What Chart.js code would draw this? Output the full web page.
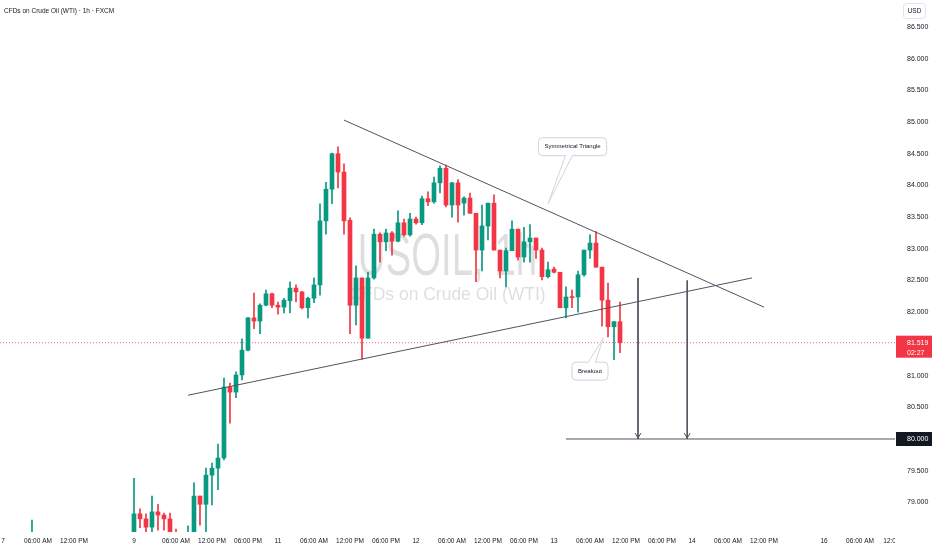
<!DOCTYPE html>
<html>
<head>
<meta charset="utf-8">
<title>USOIL 1h</title>
<script src="https://cdn.jsdelivr.net/npm/chart.js@4.4.1/dist/chart.umd.min.js"></script>
<style>
  html, body { margin: 0; padding: 0; background: #fff; }
  #wrap { position: relative; width: 932px; height: 550px; }
</style>
</head>
<body>
<div id="wrap"><canvas id="oilChart"></canvas></div>
<script>
'use strict';

// ── Data: hourly bars (0 = first bar of the 9th) ─────────────────────────────
const hours  = [-17, 0, 1, 2, 3, 4, 5, 6, 7, 8, 9, 10, 11, 12, 13, 14, 15, 16, 17, 18, 19,
  20, 21, 22, 23, 24, 25, 26, 27, 28, 29, 30, 31, 32, 33, 34, 35, 36, 37, 38, 39,
  40, 41, 42, 43, 44, 45, 46, 47, 48, 49, 50, 51, 52, 53, 54, 55, 56, 57, 58, 59,
  60, 61, 62, 63, 64, 65, 66, 67, 68, 69, 70, 71, 72, 73, 74, 75, 76, 77, 78, 79, 80, 81];
const opens  = [78.20, 78.33, 78.82, 78.74, 78.61, 78.85, 78.80, 78.74, 78.46, 78.33, 78.28,
  78.41, 79.10, 78.97, 79.43, 79.54, 79.70, 80.82, 80.74, 81.01, 81.40,
  81.91, 81.86, 82.11, 82.29, 82.11, 82.08, 82.18, 82.38, 82.32, 82.07,
  82.22, 82.43, 83.44, 83.94, 84.50, 84.21, 83.45, 82.11, 82.54, 81.59,
  82.54, 83.23, 83.11, 83.25, 83.12, 83.41, 83.22, 83.47, 83.41, 83.79,
  83.74, 84.04, 84.27, 83.69, 84.04, 83.72, 83.80, 83.56, 82.98, 83.36,
  83.72, 82.98, 82.65, 82.97, 83.31, 82.87, 83.11, 83.17, 82.98, 82.56,
  82.68, 82.63, 82.07, 82.24, 82.24, 82.59, 82.98, 83.09, 82.71, 82.19, 81.77, 81.85];
const highs  = [78.72, 79.38, 78.90, 78.82, 79.10, 78.97, 78.83, 78.83, 78.58, 78.45, 78.63,
  79.31, 79.10, 79.54, 79.62, 79.92, 80.96, 80.88, 81.06, 81.58, 81.92,
  82.30, 82.13, 82.35, 82.30, 82.16, 82.22, 82.48, 82.43, 82.33, 82.24,
  82.54, 83.71, 84.05, 84.51, 84.61, 84.34, 83.49, 82.73, 82.54, 82.63,
  83.31, 83.25, 83.31, 83.27, 83.60, 83.47, 83.56, 83.50, 83.83, 83.90,
  84.13, 84.31, 84.32, 84.05, 84.09, 83.82, 83.88, 83.56, 83.69, 83.72,
  83.85, 82.98, 83.01, 83.44, 83.31, 83.34, 83.38, 83.17, 83.01, 82.79,
  82.71, 82.63, 82.40, 82.35, 82.65, 82.98, 83.22, 83.27, 82.71, 82.46, 81.85, 82.16];
const lows   = [78.00, 78.17, 78.60, 78.53, 78.53, 78.56, 78.56, 78.33, 78.25, 78.20, 78.17,
  78.33, 78.64, 78.53, 78.96, 79.20, 79.67, 80.25, 80.65, 80.93, 81.39,
  81.74, 81.66, 82.10, 82.07, 81.97, 81.99, 81.99, 82.16, 82.05, 81.91,
  82.15, 82.27, 83.23, 83.71, 83.96, 83.23, 81.66, 81.80, 81.26, 81.59,
  82.52, 82.79, 82.97, 82.90, 83.11, 83.20, 83.20, 83.39, 83.38, 83.68,
  83.72, 83.88, 83.66, 83.50, 83.42, 83.53, 83.56, 82.48, 82.65, 83.14,
  82.98, 82.54, 82.40, 82.97, 82.82, 82.79, 82.79, 82.85, 82.51, 82.54,
  82.62, 82.07, 81.91, 82.07, 82.00, 82.57, 82.85, 82.71, 81.78, 81.61, 81.25, 81.36];
const closes = [78.40, 78.82, 78.74, 78.61, 78.85, 78.80, 78.74, 78.41, 78.33, 78.30, 78.44,
  79.10, 78.97, 79.43, 79.54, 79.70, 80.82, 80.74, 81.01, 81.40, 81.91,
  81.86, 82.11, 82.29, 82.11, 82.08, 82.19, 82.38, 82.32, 82.07, 82.22,
  82.43, 83.44, 83.94, 84.50, 84.21, 83.44, 82.11, 82.54, 81.59, 82.54,
  83.23, 83.11, 83.25, 83.12, 83.41, 83.22, 83.47, 83.41, 83.79, 83.74,
  84.04, 84.27, 83.69, 84.04, 83.69, 83.80, 83.56, 82.98, 83.36, 83.72,
  82.98, 82.65, 82.97, 83.31, 82.87, 83.11, 83.17, 82.98, 82.56, 82.67,
  82.63, 82.07, 82.24, 82.23, 82.59, 82.98, 83.09, 82.71, 82.19, 81.77, 81.85, 81.519];

// time axis labels (positions in hour index)
const timeTicks  = [-21.8, -16, -10, 0, 7, 13, 19, 24, 30, 36, 42, 47, 53, 59, 65, 70, 76, 82, 88, 93, 99, 105, 115, 121, 127.2];
const timeLabels = ['7', '06:00 AM', '12:00 PM', '9', '06:00 AM', '12:00 PM', '06:00 PM', '11',
  '06:00 AM', '12:00 PM', '06:00 PM', '12', '06:00 AM', '12:00 PM', '06:00 PM', '13',
  '06:00 AM', '12:00 PM', '06:00 PM', '14', '06:00 AM', '12:00 PM', '16', '06:00 AM', '12:00 PM'];

const X_MIN = -22.33, X_MAX = 126.83;
const Y_MIN = 78.533, Y_MAX = 86.924;

const lastPrice   = 81.519;
const countdown   = '02:27';
const targetPrice = 80.0;

// drawings: [hour, price] pairs
const upperLine  = [[35, 85.03], [105, 82.08]];
const lowerLine  = [[9, 80.69], [103, 82.54]];
const arrowA     = [[84, 82.54], [84, targetPrice]];
const arrowB     = [[92.2, 82.50], [92.2, targetPrice]];
const targetLine = [[72, targetPrice], [X_MAX, targetPrice]];
const notes = [
  { text: 'Symmetrical Triangle', box: [73.1, 84.61], tip: [69, 83.71] },
  { text: 'Breakout',             box: [76, 81.07],   tip: [78.2, 81.59] }
];

// ── Styles ───────────────────────────────────────────────────────────────────
const UP   = '#089981';
const DOWN = '#F23645';
const INK  = '#131722';
const DRAW = '#50535e';
const FONT = "'Liberation Sans', Arial, sans-serif";

Chart.defaults.font.family = FONT;
Chart.defaults.color = INK;

const candleColor = (ctx) => closes[ctx.dataIndex] >= opens[ctx.dataIndex] ? UP : DOWN;
const toPoints = (pairs) => pairs.map(p => ({ x: p[0], y: p[1] }));

function drawingSet(pairs, extra) {
  return Object.assign({
    type: 'line',
    data: toPoints(pairs),
    borderColor: DRAW,
    borderWidth: 1,
    pointRadius: 0,
    tension: 0,
    order: 1
  }, extra || {});
}

// ── Overlay plugin: watermark, callouts, axis badges ─────────────────────────
const overlay = {
  id: 'overlay',
  beforeDatasetsDraw(chart) {
    const { ctx, chartArea: a } = chart;
    const cx = (a.left + a.right) / 2;
    const cy = (a.top + a.bottom) / 2;
    ctx.save();
    ctx.fillStyle = 'rgba(19,23,34,0.14)';
    ctx.textAlign = 'center';
    ctx.textBaseline = 'alphabetic';
    ctx.translate(cx, cy + 9);
    ctx.scale(0.64, 1);
    ctx.font = `60px ${FONT}`;
    ctx.fillText('USOIL, 1h', 0, 0);
    ctx.restore();
    ctx.save();
    ctx.fillStyle = 'rgba(19,23,34,0.14)';
    ctx.textAlign = 'center';
    ctx.translate(cx, cy + 34);
    ctx.scale(0.92, 1);
    ctx.font = `19px ${FONT}`;
    ctx.fillText('CFDs on Crude Oil (WTI)', 0, 0);
    ctx.restore();
  },
  afterDatasetsDraw(chart) {
    const { ctx, scales: { x, y } } = chart;
    ctx.save();
    // arrow heads at the target
    ctx.strokeStyle = DRAW;
    ctx.lineWidth = 1;
    [arrowA, arrowB].forEach(arr => {
      const px = x.getPixelForValue(arr[1][0]);
      const py = y.getPixelForValue(arr[1][1]) - 1;
      ctx.beginPath();
      ctx.moveTo(px - 3, py - 5);
      ctx.lineTo(px, py);
      ctx.lineTo(px + 3, py - 5);
      ctx.stroke();
    });
    // callouts
    notes.forEach(n => {
      ctx.font = `6px ${FONT}`;
      const w = ctx.measureText(n.text).width + 12;
      const h = 18;
      const cx = x.getPixelForValue(n.box[0]);
      const cy = y.getPixelForValue(n.box[1]);
      const tx = x.getPixelForValue(n.tip[0]);
      const ty = y.getPixelForValue(n.tip[1]);
      const bx = cx - w / 2, by = cy - h / 2;
      const baseY = ty > cy ? by + h : by;
      const baseX = cx + (tx - cx) * 0.15;
      ctx.beginPath();
      ctx.roundRect(bx, by, w, h, 4);
      ctx.fillStyle = '#fff';
      ctx.fill();
      ctx.strokeStyle = '#d1d4dc';
      ctx.stroke();
      ctx.beginPath();
      ctx.moveTo(baseX - 3.5, baseY);
      ctx.lineTo(tx, ty);
      ctx.lineTo(baseX + 3.5, baseY);
      ctx.fill();
      ctx.stroke();
      ctx.fillRect(baseX - 3, baseY - 1, 6, 2);
      ctx.fillStyle = INK;
      ctx.textAlign = 'center';
      ctx.textBaseline = 'middle';
      ctx.fillText(n.text, cx, cy);
    });
    ctx.restore();
  },
  afterDraw(chart) {
    const { ctx, chartArea: a, scales: { y } } = chart;
    const W = chart.width, H = chart.height;
    ctx.save();
    // hide the time label that runs under the price scale
    ctx.fillStyle = '#fff';
    ctx.fillRect(a.right, a.bottom, W - a.right, H - a.bottom);

    const lx = a.right + 12;
    ctx.font = `7px ${FONT}`;
    ctx.textAlign = 'left';
    ctx.textBaseline = 'middle';

    // last price badge
    const yl = y.getPixelForValue(lastPrice);
    ctx.fillStyle = DOWN;
    ctx.fillRect(a.right + 1, yl - 7, W - a.right - 1, 22);
    ctx.fillStyle = '#fff';
    ctx.fillText(lastPrice.toFixed(3), lx, yl);
    ctx.fillText(countdown, lx, yl + 10);

    // target badge
    const yt = y.getPixelForValue(targetPrice);
    ctx.fillStyle = INK;
    ctx.fillRect(a.right + 1, yt - 7, W - a.right - 1, 14);
    ctx.fillStyle = '#fff';
    ctx.fillText(targetPrice.toFixed(3), lx, yt);

    // currency box
    ctx.beginPath();
    ctx.roundRect(903.5, 3.5, 22, 15, 3);
    ctx.fillStyle = '#fff';
    ctx.fill();
    ctx.strokeStyle = '#e0e3eb';
    ctx.lineWidth = 1;
    ctx.stroke();
    ctx.fillStyle = INK;
    ctx.font = `6.5px ${FONT}`;
    ctx.textAlign = 'center';
    ctx.fillText('USD', 914.5, 11);

    // title
    ctx.textAlign = 'left';
    ctx.font = `6.5px ${FONT}`;
    ctx.fillText('CFDs on Crude Oil (WTI) \u00b7 1h \u00b7 FXCM', 4, 11);
    ctx.restore();
  }
};

// ── Chart ────────────────────────────────────────────────────────────────────
new Chart(document.getElementById('oilChart'), {
  type: 'bar',
  data: {
    datasets: [
      drawingSet([[X_MIN, lastPrice], [X_MAX, lastPrice]], { borderColor: 'rgba(242,54,69,0.75)', borderDash: [1, 2], order: 9 }),
      {
        label: 'wick',
        data: hours.map((h, k) => ({ x: h, y: [lows[k], highs[k]] })),
        backgroundColor: candleColor,
        barThickness: 1,
        grouped: false,
        order: 6
      },
      {
        label: 'body',
        data: hours.map((h, k) => ({ x: h, y: [opens[k], closes[k]] })),
        backgroundColor: candleColor,
        barThickness: 4,
        minBarLength: 1,
        grouped: false,
        order: 5
      },
      drawingSet(upperLine),
      drawingSet(lowerLine),
      drawingSet(arrowA),
      drawingSet(arrowB),
      drawingSet(targetLine)
    ]
  },
  options: {
    responsive: true,
    maintainAspectRatio: false,
    animation: false,
    layout: { padding: 0 },
    plugins: {
      legend: { display: false },
      tooltip: { enabled: false }
    },
    scales: {
      x: {
        type: 'linear',
        min: X_MIN,
        max: X_MAX,
        offset: false,
        grid: { display: false, drawTicks: false },
        border: { display: false },
        afterBuildTicks: (scale) => { scale.ticks = timeTicks.map(v => ({ value: v })); },
        afterFit: (scale) => { scale.height = 18; scale.paddingLeft = 0; scale.paddingRight = 0; },
        ticks: {
          autoSkip: false,
          maxRotation: 0,
          minRotation: 0,
          padding: 5,
          color: INK,
          font: { size: 6.5 },
          callback: (value, index) => timeLabels[index]
        }
      },
      y: {
        position: 'right',
        min: Y_MIN,
        max: Y_MAX,
        grid: { display: false, drawTicks: false },
        border: { display: false },
        afterFit: (scale) => { scale.width = 37; scale.paddingTop = 0; scale.paddingBottom = 0; },
        ticks: {
          stepSize: 0.5,
          includeBounds: false,
          padding: 12,
          color: INK,
          font: { size: 7 },
          // the last-price badge hides the nearby level
          callback: (v) => Math.abs(v - lastPrice) < 0.3 ? '' : v.toFixed(3)
        }
      }
    }
  },
  plugins: [overlay]
});
</script>
</body>
</html>
